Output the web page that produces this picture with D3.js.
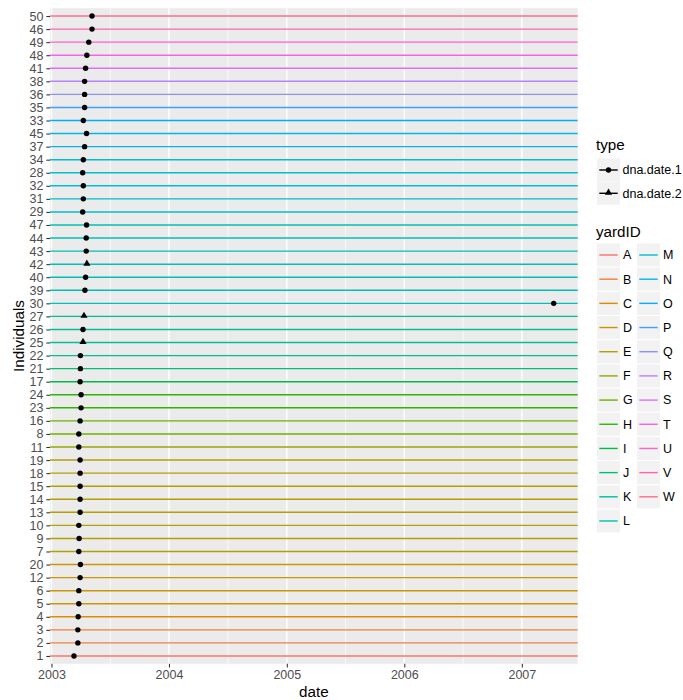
<!DOCTYPE html>
<html>
<head>
<meta charset="utf-8">
<script src="https://cdn.jsdelivr.net/npm/d3@7"></script>
<style>
body { margin: 0; background: #fff; }
text { font-family: "Liberation Sans", Arial, sans-serif; }
</style>
</head>
<body>
<div class="chart"></div>
<script>
// individuals from bottom to top, as on the y axis
const individuals = ["1","2","3","4","5","6","12","20","7","9","10","13","14","15","18","19","11","8","16","23",
	"24","17","21","22","25","26","27","30","39","40","42","43","44","47","29","31","32","28","34","37",
	"45","33","35","36","38","41","48","49","46","50"];
const yardOf = ["A","B","B","C","D","D","D","D","E","E","E","E","E","E","E","E","F","G","G","H",
	"H","I","J","K","K","K","K","L","L","L","L","L","L","L","M","M","M","M","M","N",
	"N","O","P","Q","R","S","T","U","V","W"];
const dates = ["2003-03-12","2003-03-24","2003-03-24","2003-03-25","2003-03-27","2003-03-27","2003-03-31","2003-04-01","2003-03-27","2003-03-28",
	"2003-03-27","2003-03-31","2003-03-31","2003-03-31","2003-03-31","2003-03-31","2003-03-27","2003-03-27","2003-03-31","2003-04-03",
	"2003-04-03","2003-03-31","2003-04-01","2003-04-01","2003-04-09","2003-04-09","2003-04-12","2007-04-10","2003-04-15","2003-04-17",
	"2003-04-21","2003-04-19","2003-04-19","2003-04-20","2003-04-08","2003-04-10","2003-04-10","2003-04-08","2003-04-10","2003-04-14",
	"2003-04-20","2003-04-10","2003-04-14","2003-04-14","2003-04-14","2003-04-17","2003-04-21","2003-04-27","2003-05-07","2003-05-07"];
const types = individuals.map(d => ["25","27","42"].includes(d) ? "dna.date.2" : "dna.date.1");
const typeLevels = ["dna.date.1", "dna.date.2"];
const yardLevels = ["A","B","C","D","E","F","G","H","I","J","K","L","M","N","O","P","Q","R","S","T","U","V","W"];

const parse = d3.timeParse("%Y-%m-%d");
const data = individuals.map((id, i) => ({ id, yard: yardOf[i], date: parse(dates[i]), type: types[i] }));

// ggplot hue palette (polar LUV -> sRGB)
function hcl(h, c, l) {
	const Xn = 95.047, Yn = 100, Zn = 108.883;
	const den = Xn + 15 * Yn + 3 * Zn, un = 4 * Xn / den, vn = 9 * Yn / den;
	const hr = h * Math.PI / 180, U = c * Math.cos(hr), V = c * Math.sin(hr);
	const Y = Yn * (l > 8 ? Math.pow((l + 16) / 116, 3) : l / 903.3);
	const u = U / (13 * l) + un, v = V / (13 * l) + vn;
	const X = 9 * Y * u / (4 * v), Z = -X / 3 - 5 * Y + 3 * Y / v;
	const lin = [3.240479 * X - 1.537150 * Y - 0.498535 * Z,
		-0.969256 * X + 1.875992 * Y + 0.041556 * Z,
		0.055648 * X - 0.204043 * Y + 1.057311 * Z].map(t => t / 100);
	const g = t => 255 * (t > 0.00304 ? 1.055 * Math.pow(t, 1 / 2.4) - 0.055 : 12.92 * t);
	return d3.rgb(...lin.map(t => Math.max(0, Math.min(255, g(t))))).formatHex();
}
const n = yardLevels.length;
const color = d3.scaleOrdinal()
	.domain(yardLevels)
	.range(yardLevels.map((_, i) => hcl(15 + i * 360 / n, 100, 65)));

const width = 683, height = 700;
const margin = { top: 8.2, right: 105.3, bottom: 36.2, left: 50 };
const small = "12.5px", big = "15.2px";

const ext = d3.extent(data, d => d.date);
const span = ext[1] - ext[0];
const x = d3.scaleTime()
	.domain([new Date(+ext[0] - span * 0.05), new Date(+ext[1] + span * 0.05)])
	.range([margin.left, width - margin.right]);

const y = d3.scalePoint()
	.domain(individuals)
	.range([height - margin.bottom, margin.top])
	.padding(0.6);

const svg = d3.select(".chart")
	.append("svg")
	.attr("width", width)
	.attr("height", height)
	.attr("viewBox", [0, 0, width, height]);

// panel
svg.append("rect")
	.attr("x", margin.left)
	.attr("y", margin.top)
	.attr("width", width - margin.right - margin.left)
	.attr("height", height - margin.bottom - margin.top)
	.attr("fill", "#EBEBEB");

const major = x.ticks(d3.timeYear.every(1));
const minor = d3.pairs(major, (a, b) => new Date((+a + +b) / 2));

svg.append("g")
	.attr("stroke", "#fff")
	.attr("stroke-width", 0.71)
	.selectAll("line")
	.data(minor)
	.join("line")
	.attr("x1", d => x(d)).attr("x2", d => x(d))
	.attr("y1", margin.top).attr("y2", height - margin.bottom);

svg.append("g")
	.attr("stroke", "#fff")
	.attr("stroke-width", 1.42)
	.selectAll("line")
	.data(major)
	.join("line")
	.attr("x1", d => x(d)).attr("x2", d => x(d))
	.attr("y1", margin.top).attr("y2", height - margin.bottom);

// one line per individual, coloured by yard
svg.append("g")
	.attr("stroke-width", 1.42)
	.selectAll("line")
	.data(data)
	.join("line")
	.attr("stroke", d => color(d.yard))
	.attr("x1", x.range()[0]).attr("x2", x.range()[1])
	.attr("y1", d => y(d.id)).attr("y2", d => y(d.id));

const tri = d3.symbol().type(d3.symbolTriangle).size(22);

const pts = svg.append("g").attr("fill", "#000");
pts.selectAll("circle")
	.data(data.filter(d => d.type === "dna.date.1"))
	.join("circle")
	.attr("cx", d => x(d.date))
	.attr("cy", d => y(d.id))
	.attr("r", 2.7);
pts.selectAll("path")
	.data(data.filter(d => d.type === "dna.date.2"))
	.join("path")
	.attr("transform", d => `translate(${x(d.date)},${y(d.id) - 0.6})`)
	.attr("d", tri);

// axes
const xAxis = svg.append("g")
	.attr("transform", `translate(0,${height - margin.bottom})`)
	.call(d3.axisBottom(x).tickValues(major).tickFormat(d3.timeFormat("%Y")).tickSize(3.67).tickPadding(2.9))
	.call(g => g.select(".domain").remove());
xAxis.selectAll(".tick line").attr("stroke", "#333").attr("stroke-width", 1.07);
xAxis.selectAll(".tick text").attr("fill", "#4D4D4D").style("font-size", small).style("font-family", "Liberation Sans, Arial, sans-serif");

const yAxis = svg.append("g")
	.attr("transform", `translate(${margin.left},0)`)
	.call(d3.axisLeft(y).tickSize(3.67).tickPadding(2.9))
	.call(g => g.select(".domain").remove());
yAxis.selectAll(".tick line").attr("stroke", "#333").attr("stroke-width", 1.07);
yAxis.selectAll(".tick text").attr("fill", "#4D4D4D").style("font-size", small).style("font-family", "Liberation Sans, Arial, sans-serif");

svg.append("text")
	.attr("x", (margin.left + width - margin.right) / 2)
	.attr("y", 696.5)
	.attr("text-anchor", "middle")
	.style("font-size", big)
	.text("date");

svg.append("text")
	.attr("transform", `translate(23.5,${(margin.top + height - margin.bottom) / 2}) rotate(-90)`)
	.attr("text-anchor", "middle")
	.style("font-size", big)
	.text("Individuals");

// legend: type
const key = 23;
const lg = svg.append("g");
lg.append("text").attr("x", 596).attr("y", 150).style("font-size", big).text("type");
const tk = lg.selectAll("g.tk")
	.data(typeLevels)
	.join("g")
	.attr("class", "tk")
	.attr("transform", (d, i) => `translate(597,${158.5 + i * 23.3})`);
tk.append("rect").attr("width", key).attr("height", key).attr("fill", "#F2F2F2");
tk.append("line")
	.attr("x1", key * 0.1).attr("x2", key * 0.9)
	.attr("y1", key / 2).attr("y2", key / 2)
	.attr("stroke", "#000").attr("stroke-width", 1.42);
tk.filter(d => d === "dna.date.1").append("circle").attr("cx", key / 2).attr("cy", key / 2).attr("r", 2.7);
tk.filter(d => d === "dna.date.2").append("path").attr("transform", `translate(${key / 2},${key / 2 - 0.6})`).attr("d", tri);
tk.append("text")
	.attr("x", key + 2.5).attr("y", key / 2).attr("dy", "0.35em")
	.style("font-size", small)
	.text(d => d);

// legend: yardID, two columns
lg.append("text").attr("x", 596).attr("y", 236.5).style("font-size", big).text("yardID");
const perCol = Math.ceil(yardLevels.length / 2);
const yk = lg.selectAll("g.yk")
	.data(yardLevels)
	.join("g")
	.attr("class", "yk")
	.attr("transform", (d, i) => `translate(${i < perCol ? 597 : 637},${243.5 + (i % perCol) * 24.18})`);
yk.append("rect").attr("width", key).attr("height", key).attr("fill", "#F2F2F2");
yk.append("line")
	.attr("x1", key * 0.1).attr("x2", key * 0.9)
	.attr("y1", key / 2).attr("y2", key / 2)
	.attr("stroke", d => color(d)).attr("stroke-width", 1.42);
yk.append("text")
	.attr("x", key + 3).attr("y", key / 2).attr("dy", "0.35em")
	.style("font-size", small)
	.text(d => d);
</script>
</body>
</html>
